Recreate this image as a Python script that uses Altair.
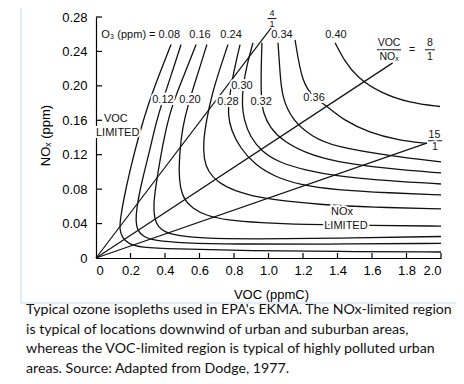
import altair as alt
import pandas as pd

# ---- Ozone isopleths: (VOC ppmC, NOx ppm) points ----
iso_008 = [(0.435, 0.248), (0.370, 0.215), (0.301, 0.178), (0.245, 0.140), (0.197, 0.102),
           (0.160, 0.068), (0.142, 0.046), (0.136, 0.034), (0.150, 0.024), (0.190, 0.016),
           (0.260, 0.0125), (0.430, 0.0105), (0.90, 0.0085), (1.40, 0.0075), (2.0, 0.007)]
iso_012 = [(0.493, 0.248), (0.440, 0.215), (0.388, 0.184), (0.345, 0.155), (0.313, 0.126),
           (0.280, 0.100), (0.255, 0.079), (0.236, 0.058), (0.230, 0.043), (0.240, 0.032),
           (0.272, 0.025), (0.340, 0.020), (0.50, 0.0175), (0.80, 0.016), (1.30, 0.016), (2.0, 0.017)]
iso_016 = [(0.580, 0.248), (0.510, 0.212), (0.441, 0.178), (0.400, 0.145), (0.371, 0.114),
           (0.348, 0.085), (0.333, 0.063), (0.338, 0.046), (0.360, 0.036), (0.400, 0.030),
           (0.470, 0.026), (0.60, 0.023), (0.90, 0.022), (1.40, 0.023), (2.0, 0.025)]
iso_020 = [(0.643, 0.248), (0.590, 0.214), (0.533, 0.178), (0.500, 0.150), (0.487, 0.126),
           (0.480, 0.100), (0.488, 0.082), (0.510, 0.068), (0.557, 0.058), (0.640, 0.049),
           (0.760, 0.044), (0.95, 0.041), (1.2, 0.039), (1.6, 0.038), (2.0, 0.037)]
iso_024 = [(0.765, 0.248), (0.715, 0.218), (0.672, 0.190), (0.640, 0.160), (0.622, 0.135),
           (0.625, 0.115), (0.650, 0.100), (0.707, 0.088), (0.800, 0.078), (0.950, 0.070),
           (1.10, 0.066), (1.30, 0.062), (1.60, 0.059), (2.0, 0.057)]
iso_028 = [(0.835, 0.248), (0.794, 0.2128), (0.771, 0.1837), (0.765, 0.1663), (0.783, 0.1488),
           (0.835, 0.1279), (0.922, 0.1081), (1.038, 0.0942), (1.183, 0.0849), (1.386, 0.0791),
           (1.704, 0.0756), (2.0, 0.0733)]
iso_030 = [(0.910, 0.250), (0.875, 0.2244), (0.852, 0.2000), (0.846, 0.1779), (0.858, 0.1605),
           (0.893, 0.1407), (0.962, 0.1233), (1.067, 0.1105), (1.212, 0.1023), (1.386, 0.0953),
           (1.704, 0.0895), (2.0, 0.0860)]
iso_032 = [(0.962, 0.250), (0.957, 0.2186), (0.957, 0.1872), (0.968, 0.1686), (1.009, 0.1512),
           (1.084, 0.1360), (1.212, 0.1221), (1.386, 0.1116), (1.704, 0.1035), (2.0, 0.0988)]
iso_034 = [(1.055, 0.250), (1.067, 0.2151), (1.078, 0.1872), (1.136, 0.1605), (1.252, 0.1407),
           (1.386, 0.1291), (1.704, 0.1186), (2.0, 0.1116)]
iso_036 = [(1.154, 0.2535), (1.194, 0.2035), (1.264, 0.186), (1.345, 0.1756), (1.432, 0.1605),
           (1.588, 0.1453), (1.745, 0.1372), (1.919, 0.1331)]
iso_040 = [(1.386, 0.250), (1.443, 0.228), (1.513, 0.210), (1.646, 0.192), (1.820, 0.180), (1.994, 0.176)]

iso_levels = ["0.08", "0.12", "0.16", "0.20", "0.24", "0.28", "0.30", "0.32", "0.34", "0.36", "0.40"]
iso_curves = [iso_008, iso_012, iso_016, iso_020, iso_024, iso_028, iso_030, iso_032, iso_034, iso_036, iso_040]

# ---- VOC/NOx ratio lines from the origin ----
ratio_names = ["4/1", "8/1", "15/1"]
ratio_end_voc = [1.02, 1.72, 1.917]
ratio_end_nox = [0.2686, 0.2267, 0.1334]

# ---- isopleth labels ----
label_text = ["O\u2083 (ppm) = 0.08", "0.16", "0.24", "0.34", "0.40",
              "0.12", "0.20", "0.28", "0.30", "0.32", "0.36"]
label_voc = [0.487, 0.603, 0.783, 1.078, 1.391, 0.388, 0.545, 0.765, 0.846, 0.957, 1.264]
label_nox = [0.2593, 0.2593, 0.2593, 0.2593, 0.2593, 0.1837, 0.1837, 0.1814, 0.200, 0.1814, 0.186]
label_align = ["right", "center", "center", "center", "center",
               "center", "center", "center", "center", "center", "center"]

# region labels
region_text = ["VOC", "LIMITED", "NOx", "LIMITED"]
region_voc = [0.046, 0.0, 1.426, 1.449]
region_nox = [0.1616, 0.1453, 0.0535, 0.0372]
region_align = ["left", "left", "center", "center"]

# fraction labels (numerator / denominator and bar)
frac_small_text = ["4", "1"]
frac_small_voc = [1.020, 1.020]
frac_small_nox = [0.2841, 0.2724]
frac_text = ["VOC", "NO\u2093", "=", "8", "1", "15", "1"]
frac_voc = [1.699, 1.699, 1.832, 1.936, 1.936, 1.962, 1.965]
frac_nox = [0.2500, 0.2337, 0.2419, 0.2500, 0.2337, 0.1430, 0.1285]
bar_voc = [0.994, 1.629, 1.907, 1.925]
bar_voc2 = [1.046, 1.768, 1.965, 2.006]
bar_nox = [0.2782, 0.2419, 0.2419, 0.1362]

x_tick_vals = [0.2, 0.4, 0.6, 0.8, 1.0, 1.2, 1.4, 1.6, 1.8, 2.0]
y_tick_vals = [0.04, 0.08, 0.12, 0.16, 0.20, 0.24, 0.28]

caption_lines = [
    "Typical ozone isopleths used in EPA's EKMA. The NOx-limited region",
    "is typical of locations downwind of urban and suburban areas,",
    "whereas the VOC-limited region is typical of highly polluted urban",
    "areas. Source: Adapted from Dodge, 1977.",
]

# ---- build tables ----
rows = []
for lev, pts in zip(iso_levels, iso_curves):
    for i, (v, n) in enumerate(pts):
        rows.append({"level": lev, "i": i, "voc": v, "nox": n})
curves = pd.DataFrame(rows)

rrows = []
for name, v, n in zip(ratio_names, ratio_end_voc, ratio_end_nox):
    rrows.append({"ratio": name, "i": 0, "voc": 0.0, "nox": 0.0})
    rrows.append({"ratio": name, "i": 1, "voc": v, "nox": n})
ratios = pd.DataFrame(rrows)

labels = pd.DataFrame({"t": label_text, "voc": label_voc, "nox": label_nox, "al": label_align})
regions = pd.DataFrame({"t": region_text, "voc": region_voc, "nox": region_nox, "al": region_align})
fracs = pd.DataFrame({"t": frac_text, "voc": frac_voc, "nox": frac_nox})
fracs_small = pd.DataFrame({"t": frac_small_text, "voc": frac_small_voc, "nox": frac_small_nox})
bars = pd.DataFrame({"voc": bar_voc, "voc2": bar_voc2, "nox": bar_nox})
xt = pd.DataFrame({"voc": x_tick_vals})
yt = pd.DataFrame({"nox": y_tick_vals})

FONT = "Liberation Sans"
xs = alt.Scale(domain=[0, 2], nice=False, zero=False)
ys = alt.Scale(domain=[0, 0.28], nice=False, zero=False)

x_axis = alt.Axis(values=[0] + x_tick_vals,
                  labelExpr="datum.value == 0 ? '0' : format(datum.value, '.1f')",
                  ticks=False, tickSize=0, grid=False, domainColor="black", domainWidth=1.2,
                  labelFont=FONT, labelFontSize=13, labelColor="black", labelPadding=6,
                  title="VOC (ppmC)", titleFont=FONT, titleFontSize=13, titleFontWeight="normal",
                  titleColor="black", titleY=36, titleX=175, titleBaseline="middle", titleAlign="center")
y_axis = alt.Axis(values=[0] + y_tick_vals,
                  labelExpr="datum.value == 0 ? '0' : format(datum.value, '.2f')",
                  ticks=False, tickSize=0, grid=False, domainColor="black", domainWidth=1.2,
                  labelFont=FONT, labelFontSize=13, labelColor="black", labelPadding=9,
                  title="NO\u2093 (ppm)", titleFont=FONT, titleFontSize=13, titleFontWeight="normal",
                  titleColor="black", titleX=-51, titleY=118, titleBaseline="middle", titleAlign="center",
                  titleAngle=270)


def X(field="voc"):
    return alt.X(f"{field}:Q", scale=xs, axis=x_axis)


def Y(field="nox"):
    return alt.Y(f"{field}:Q", scale=ys, axis=y_axis)


iso = alt.Chart(curves).mark_line(interpolate="basis", color="#111111", strokeWidth=1.3).encode(
    x=X(), y=Y(), detail="level:N", order="i:Q",
)

ratio_lines = alt.Chart(ratios).mark_line(color="#111111", strokeWidth=1.2).encode(
    x=X(), y=Y(), detail="ratio:N", order="i:Q",
)


def text_layers(df, size, halo=4):
    base = alt.Chart(df).encode(x=X(), y=Y(), text="t:N")
    aligns = ["left", "center", "right"] if "al" in df.columns else [None]
    layers = []
    for al in aligns:
        sub = base.transform_filter(alt.datum.al == al) if al else base
        a = al or "center"
        layers.append(sub.mark_text(font=FONT, fontSize=size, align=a, baseline="middle",
                                    color="white", stroke="white", strokeWidth=halo))
        layers.append(sub.mark_text(font=FONT, fontSize=size, align=a, baseline="middle",
                                    color="#111111"))
    return layers


frac_bars = alt.Chart(bars).mark_rule(color="#111111", strokeWidth=1).encode(
    x=X(), x2="voc2:Q", y=Y(),
)

# inward tick marks on both axes
x_ticks = alt.Chart(xt).mark_rule(color="black", strokeWidth=1.2).encode(
    x=X(), y=alt.value(241), y2=alt.value(236),
)
y_ticks = alt.Chart(yt).mark_rule(color="black", strokeWidth=1.2).encode(
    y=Y(), x=alt.value(0), x2=alt.value(6),
)

frame = alt.Chart(pd.DataFrame({"a": [0]})).mark_rect(
    fill=None, stroke="#d6e6f6", strokeWidth=1.5
).encode(x=alt.value(-75), x2=alt.value(375), y=alt.value(-30), y2=alt.value(286))

caption = alt.Chart(pd.DataFrame({"a": [0]})).mark_text(
    text=caption_lines, font="Lato", fontSize=14.2, lineHeight=19.5,
    align="left", baseline="alphabetic", color="#111111"
).encode(x=alt.value(-70), y=alt.value(297))

chart = alt.layer(
    frame, iso, ratio_lines, x_ticks, y_ticks, frac_bars,
    *text_layers(labels, 11), *text_layers(regions, 11), *text_layers(fracs, 10.5, 3),
    *text_layers(fracs_small, 9, 2),
    caption,
).properties(
    width=345, height=241,
    autosize=alt.AutoSizeParams(type="none"),
    padding={"left": 88, "top": 9, "right": 15, "bottom": 118},
    background="white",
).configure_view(stroke=None)

chart.save("out.html", embed_options={"renderer": "svg", "actions": False})
